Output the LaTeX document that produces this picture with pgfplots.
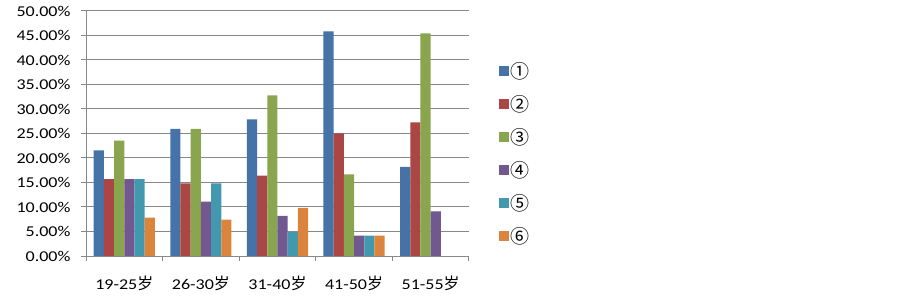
\documentclass[border=0pt]{standalone}
\usepackage{pgfplots}
\pgfplotsset{compat=1.18}
\usepackage{pgfplotstable}
\usepackage{fontspec}
\setmainfont{Carlito}[FakeStretch=1.2]
\newfontfamily\cjk{Noto Sans CJK SC}
\definecolor{c1}{HTML}{4572A7}
\definecolor{c2}{HTML}{AA4643}
\definecolor{c3}{HTML}{89A54E}
\definecolor{c4}{HTML}{71588F}
\definecolor{c5}{HTML}{4198AF}
\definecolor{c6}{HTML}{DB843D}
\definecolor{gridc}{HTML}{888888}
\pgfplotstableread{
x a b c d e f
0 21.57 15.69 23.53 15.69 15.69 7.84
1 25.93 14.81 25.93 11.11 14.81 7.41
2 27.87 16.39 32.79 8.20 4.92 9.84
3 45.83 25.00 16.67 4.17 4.17 4.17
4 18.18 27.27 45.45 9.09 0 0
}\data
\begin{document}
\begin{tikzpicture}
\useasboundingbox (0,0) rectangle (903bp,300bp);
\begin{axis}[
  at={(86bp,44bp)}, anchor=south west,
  scale only axis, width=383bp, height=245bp,
  ybar=0pt, bar width=10.2bp,
  xmin=-0.5, xmax=4.5, ymin=0, ymax=50,
  axis x line*=bottom, axis y line*=left,
  axis line style={gridc, line width=1bp},
  ymajorgrids, grid style={gridc, line width=1bp},
  ytick={0,5,...,50},
  yticklabels={0.00\%,5.00\%,10.00\%,15.00\%,20.00\%,25.00\%,30.00\%,35.00\%,40.00\%,45.00\%,50.00\%},
  xtick={-0.5,0.5,1.5,2.5,3.5,4.5}, xticklabels={},
  extra x ticks={0,1,2,3,4},
  extra x tick labels={19-25{\cjk\fontsize{16bp}{17bp}\selectfont 岁},26-30{\cjk\fontsize{16bp}{17bp}\selectfont 岁},31-40{\cjk\fontsize{16bp}{17bp}\selectfont 岁},41-50{\cjk\fontsize{16bp}{17bp}\selectfont 岁},51-55{\cjk\fontsize{16bp}{17bp}\selectfont 岁}},
  extra x tick style={major tick length=0pt, xmajorgrids=false},
  tick align=outside, major tick length=5bp,
  tick style={gridc, line width=1bp},
  ticklabel style={font=\fontsize{15bp}{17bp}\selectfont, text=black},
  yticklabel style={xshift=-7bp},
  xticklabel style={yshift=-16bp},
  /pgf/number format/assume math mode=true,
  legend style={draw=none, fill=none, at={(1.07,0.418)}, anchor=west,
    font=\cjk\fontsize{19bp}{21bp}\selectfont, row sep=11.5bp},
  legend cell align=left,
  legend image code/.code={\fill[#1] (0bp,-5bp) rectangle (10bp,5bp);},
]
\addplot[fill=c1, draw=none] table[x=x,y=a]{\data};
\addplot[fill=c2, draw=none] table[x=x,y=b]{\data};
\addplot[fill=c3, draw=none] table[x=x,y=c]{\data};
\addplot[fill=c4, draw=none] table[x=x,y=d]{\data};
\addplot[fill=c5, draw=none] table[x=x,y=e]{\data};
\addplot[fill=c6, draw=none] table[x=x,y=f]{\data};
\legend{①,②,③,④,⑤,⑥}
\end{axis}
\end{tikzpicture}
\end{document}
